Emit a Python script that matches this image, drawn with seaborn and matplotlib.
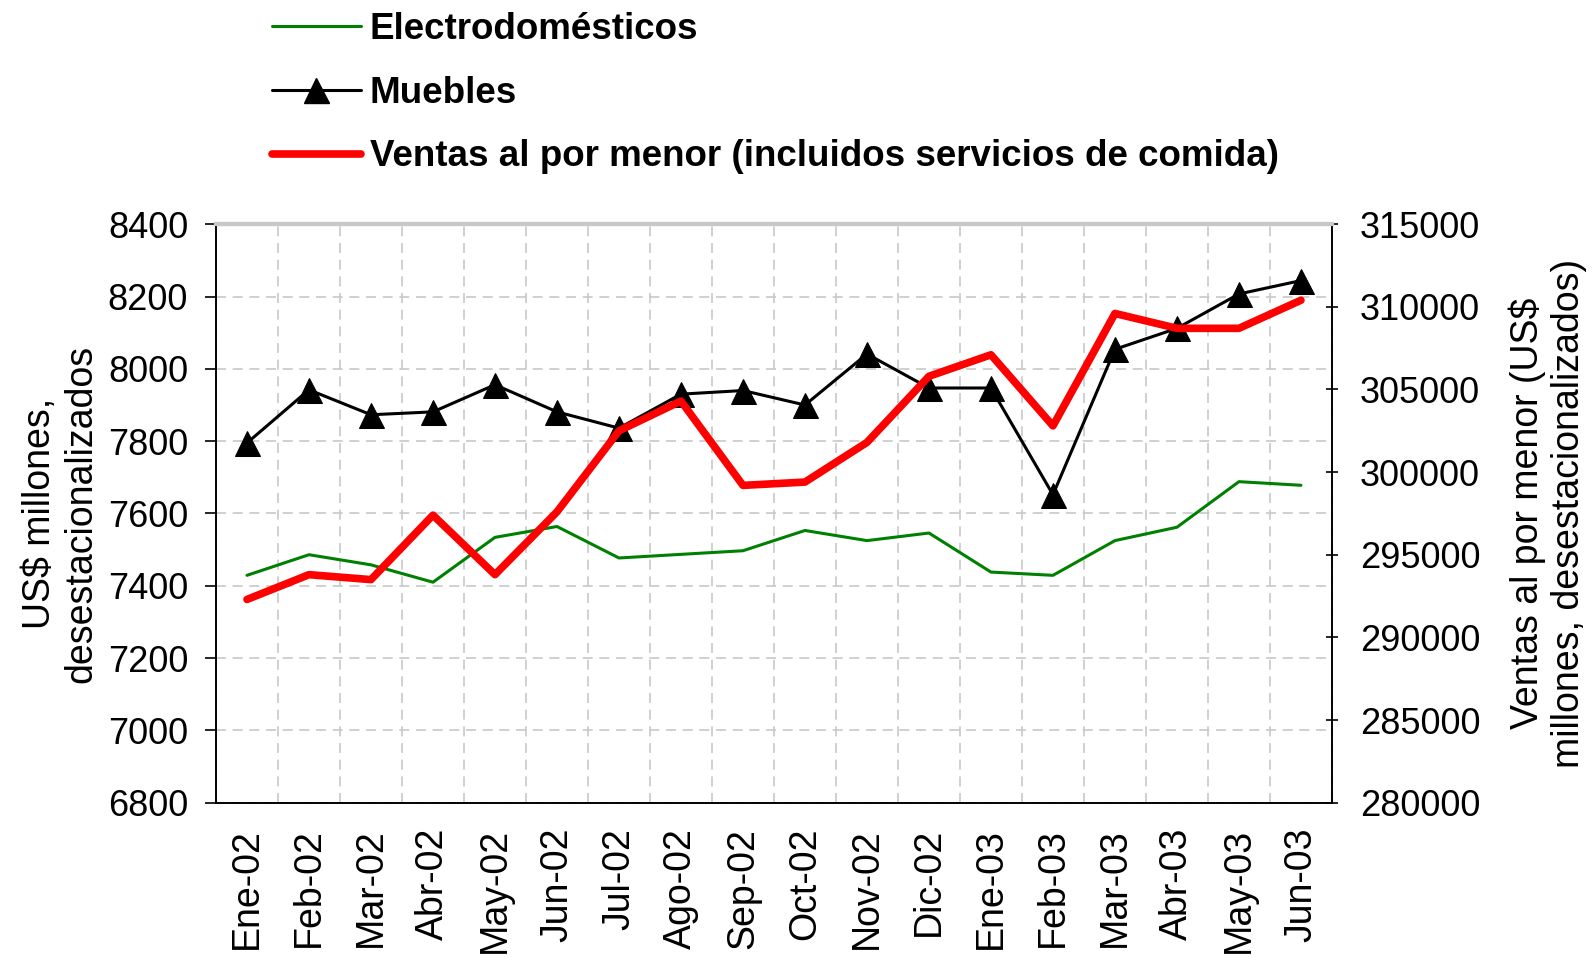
import pandas as pd
import matplotlib.pyplot as plt
import seaborn as sns
from matplotlib.lines import Line2D
from matplotlib.ticker import MultipleLocator, FixedLocator

meses = ['Ene-02', 'Feb-02', 'Mar-02', 'Abr-02', 'May-02', 'Jun-02', 'Jul-02', 'Ago-02', 'Sep-02',
         'Oct-02', 'Nov-02', 'Dic-02', 'Ene-03', 'Feb-03', 'Mar-03', 'Abr-03', 'May-03', 'Jun-03']
electro = [7429, 7486, 7458, 7410, 7534, 7564, 7477, 7487, 7497,
           7553, 7525, 7546, 7438, 7429, 7525, 7562, 7688, 7678]
muebles = [7795, 7942, 7873, 7881, 7956, 7881, 7836, 7930, 7940,
           7900, 8041, 7947, 7947, 7652, 8054, 8112, 8207, 8244]
ventas = [292300, 293800, 293500, 297400, 293800, 297600, 302500, 304300, 299200,
          299400, 301800, 305800, 307100, 302800, 309600, 308700, 308700, 310400]

df = pd.DataFrame({'pos': range(len(meses)), 'mes': meses,
                   'electro': electro, 'muebles': muebles, 'ventas': ventas})

sns.set_style('white')
plt.rcParams['font.family'] = ['Liberation Sans', 'DejaVu Sans']
plt.rcParams['text.color'] = 'black'
plt.rcParams['axes.labelcolor'] = 'black'
plt.rcParams['xtick.color'] = 'black'
plt.rcParams['ytick.color'] = 'black'

fig = plt.figure(figsize=(15.94, 9.58), dpi=100)
ax = fig.add_axes([0.1355, 0.162, 0.7001, 0.604])
ax2 = ax.twinx()

sns.lineplot(data=df, x='pos', y='electro', ax=ax, color='#008000', linewidth=2.2)
sns.lineplot(data=df, x='pos', y='muebles', ax=ax, color='black', linewidth=2.2,
             marker='^', markersize=18, markeredgecolor='black')
sns.lineplot(data=df, x='pos', y='ventas', ax=ax2, color='#ff0000', linewidth=5.5)

ax.set_xlim(-0.5, len(meses) - 0.5)
ax.set_ylim(6800, 8400)
ax.yaxis.set_major_locator(MultipleLocator(200))
ax2.set_ylim(280000, 315000)
ax2.yaxis.set_major_locator(MultipleLocator(5000))

ax.set_xticks(range(len(meses)))
ax.set_xticklabels(meses, rotation=90, fontsize=27)
ax.xaxis.set_minor_locator(FixedLocator([i + 0.5 for i in range(-1, len(meses))]))
ax.tick_params(axis='x', which='major', length=0, pad=18)
ax.tick_params(axis='x', which='minor', length=8, width=1.2, direction='out')
ax.tick_params(axis='y', labelsize=26, length=8, width=1.2, direction='out', left=True, pad=12)
ax2.tick_params(axis='y', labelsize=26, length=8, width=1.2, direction='inout', right=True, pad=16)

ax.grid(False)
ax.grid(True, which='minor', axis='x', color='#c8c8c8', linestyle=(0, (6, 4)), linewidth=1.2)
ax.grid(True, which='major', axis='y', color='#c8c8c8', linestyle=(0, (6, 4)), linewidth=1.2)
ax2.grid(False)

for a in (ax, ax2):
    a.spines['left'].set_color('black')
    a.spines['right'].set_color('black')
    a.spines['bottom'].set_color('black')
    a.spines['top'].set_color('#c8c8c8')
    a.spines['top'].set_linewidth(3)
    for s in ('left', 'right', 'bottom'):
        a.spines[s].set_linewidth(1.2)

ax.set_xlabel('')
ax.set_ylabel('US$ millones,\ndesestacionalizados', fontsize=27, labelpad=6)
ax2.set_ylabel('Ventas al por menor (US$\nmillones, desestacionalizados)', fontsize=27,
               rotation=90, labelpad=20)

handles = [Line2D([], [], color='#008000', linewidth=2.2),
           Line2D([], [], color='black', linewidth=2.2, marker='^', markersize=18),
           Line2D([], [], color='#ff0000', linewidth=5.5)]
labels = ['Electrodomésticos', 'Muebles', 'Ventas al por menor (incluidos servicios de comida)']
fig.legend(handles, labels, loc='upper left', bbox_to_anchor=(0.15, 1.022), frameon=False,
           prop={'size': 26.5, 'weight': 'bold'}, handlelength=2.4, handletextpad=0.25,
           labelspacing=0.78)

fig.savefig('out.png', dpi=100)
